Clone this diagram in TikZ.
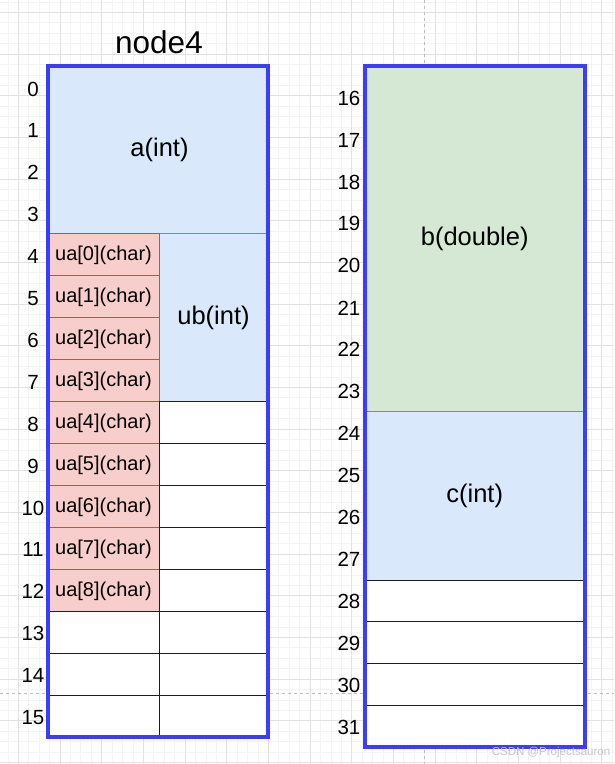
\documentclass[tikz,border=0pt]{standalone}
\usepackage{fontspec}
\setmainfont{Liberation Sans}
\tikzset{
  gridminor/.style={draw=minorColor,line width=0.6pt},
  gridmajor/.style={draw=majorColor,line width=0.8pt},
  pagebreak/.style={draw=breakColor,line width=0.8pt,dash pattern=on 3pt off 3pt},
  cellblue/.style={fill=blueFill,draw=blueLine,line width=1pt},
  cellred/.style={fill=redFill,draw=redLine,line width=1pt},
  cellgreen/.style={fill=greenFill,draw=greenLine,line width=1pt},
  cellwhite/.style={fill=white,draw=cellLine,line width=1pt},
  frame/.style={draw=frameColor,line width=4pt},
  addr/.style={inner sep=0pt,outer sep=0pt,font=\fontsize{20.5}{24}\selectfont},
  field/.style={inner sep=0pt,outer sep=0pt,font=\fontsize{25.5}{30}\selectfont},
  elem/.style={inner sep=0pt,outer sep=0pt,font=\fontsize{20}{24}\selectfont},
}
\begin{document}
\begin{tikzpicture}[x=1pt,y=-1pt]
\definecolor{minorColor}{RGB}{244,244,244}
\definecolor{majorColor}{RGB}{226,226,226}
\definecolor{breakColor}{RGB}{190,190,190}
\definecolor{blueFill}{RGB}{218,232,252}
\definecolor{blueLine}{RGB}{108,142,191}
\definecolor{redFill}{RGB}{248,206,204}
\definecolor{redLine}{RGB}{184,84,80}
\definecolor{greenFill}{RGB}{213,232,212}
\definecolor{greenLine}{RGB}{130,179,102}
\definecolor{cellLine}{RGB}{30,30,30}
\definecolor{frameColor}{RGB}{60,60,255}
\path[use as bounding box,fill=white] (0,0) rectangle (614,764);

\foreach \i in {0,...,58} \path[gridminor] ({7.88+10.417*\i},0) -- ++(0,764);
\foreach \i in {0,...,73} \path[gridminor] (0,{1.88+10.417*\i}) -- ++(614,0);
\foreach \i in {0,...,14} \path[gridmajor] ({18.3+41.67*\i},0) -- ++(0,764);
\foreach \i in {0,...,18} \path[gridmajor] (0,{12.3+41.67*\i}) -- ++(614,0);
\path[pagebreak] (424.3,0) -- (424.3,764);
\path[pagebreak] (0,693.3) -- (614,693.3);

% node4, left half
\path[cellblue] (48,65.5) rectangle (268,233.4);
\node[field] (a) at (159.5,150) {a(int)};
\path[cellblue] (159,233.4) rectangle (268,401.4);
\node[field] (ub) at (213.5,318) {ub(int)};
\foreach \k in {0,...,8} {
  \path[cellred] (48,{233.4+41.97*\k}) rectangle (159,{275.37+41.97*\k});
  \node[elem] (ua\k) at (103.5,{255.4+41.97*\k}) {ua[\k](char)};
}
\foreach \k in {8,...,15} \path[cellwhite] (159,{65.5+41.97*\k}) rectangle (268,{107.47+41.97*\k});
\foreach \k in {13,14,15} \path[cellwhite] (48,{65.5+41.97*\k}) rectangle (159,{107.47+41.97*\k});
\path[frame] (48,65.5) rectangle (268,737);
\foreach \k in {0,...,15} \node[addr] (lo\k) at (33,{89+41.9*\k}) {\k};
\node[inner sep=0pt,font=\fontsize{31.5}{36}\selectfont] (title) at (159,42) {node4};

% node4, right half
\path[cellgreen] (364.7,66) rectangle (584.7,411);
\node[field] (b) at (474.7,239) {b(double)};
\path[cellblue] (364.7,411) rectangle (584.7,580);
\node[field] (c) at (474.7,495.5) {c(int)};
\foreach \k in {0,...,3} \path[cellwhite] (364.7,{580+41.75*\k}) rectangle (584.7,{621.75+41.75*\k});
\path[frame] (364.7,66) rectangle (584.7,747);
\foreach \k in {16,...,31} \node[addr] (hi\k) at (349,{98+41.97*(\k-16)}) {\k};

\node[inner sep=0pt,text=gray!45,font=\fontsize{11.5}{13}\selectfont] (mark) at (551,752.5) {CSDN @Projectsauron};
\end{tikzpicture}
\end{document}
